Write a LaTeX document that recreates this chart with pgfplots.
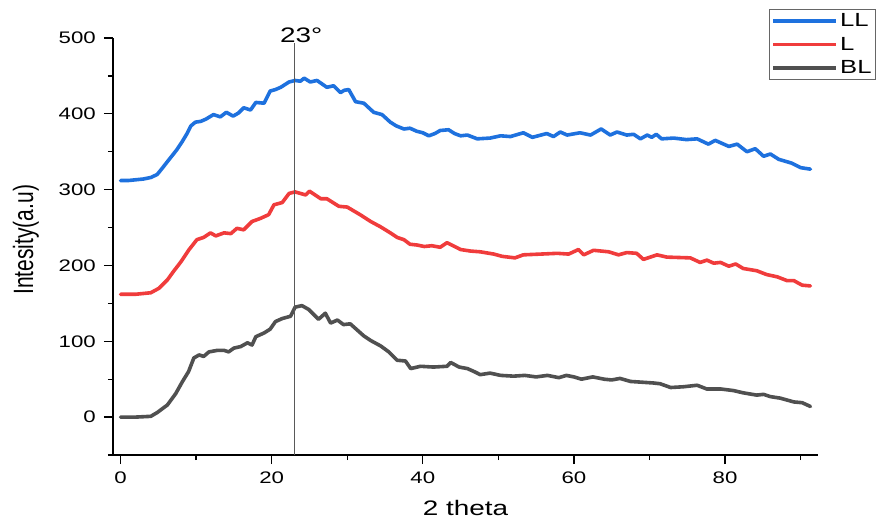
\documentclass[border=0pt]{standalone}
\usepackage{fontspec}
\setmainfont{Liberation Sans}
\usepackage{graphicx}
\usepackage{pgfplots}
\pgfplotsset{compat=1.18}
\definecolor{cLL}{RGB}{30,113,222}
\definecolor{cL}{RGB}{240,60,60}
\definecolor{cBL}{RGB}{80,80,80}
\begin{document}
\begin{tikzpicture}
\begin{axis}[
 at={(0,0)}, anchor=south west,
 scale only axis, width=705bp, height=417bp,
 xmin=-1, xmax=92.3, ymin=-50, ymax=500,
 axis x line*=bottom, axis y line*=left,
 axis line style={line width=1.3bp, black},
 xtick={0,20,40,60,80}, minor xtick={10,30,50,70,90},
 ytick={0,100,200,300,400,500}, minor ytick={-50,50,150,250,350,450},
 tick align=outside, major tick length=9bp, minor tick length=5bp,
 every tick/.style={line width=1.3bp, black},
 xticklabel={\scalebox{1.33}[1]{\pgfmathprintnumber[assume math mode=true]{\tick}}},
 yticklabel={\scalebox{1.33}[1]{\pgfmathprintnumber[assume math mode=true]{\tick}}},
 ticklabel style={font=\fontsize{16.7bp}{20bp}\selectfont},
 xticklabel style={anchor=north, inner sep=0pt, yshift=-8bp},
 yticklabel style={anchor=east, inner sep=0pt, xshift=-8bp},
 xlabel={\scalebox{1.33}[1]{2 theta}},
 ylabel={\scalebox{1}[1.33]{Intesity(a.u)}},
 xlabel style={at={(axis description cs:0.5,-0.1439)}, anchor=base, font=\fontsize{21bp}{25bp}\selectfont, inner sep=0pt},
 ylabel style={at={(axis description cs:-0.1234,0.516)}, anchor=center, font=\fontsize{21bp}{25bp}\selectfont, inner sep=0pt},
 clip=false,
 legend style={at={(axis description cs:1.0823,1.0695)}, anchor=north east, draw=black!60, line width=1bp, fill=white, inner xsep=2bp, inner ysep=2bp, font=\fontsize{19bp}{22bp}\selectfont, row sep=5bp},
 legend cell align=left,
 legend image code/.code={\draw[#1, line width=3.6bp, line cap=butt] (0bp,0bp) -- (63bp,0bp);},
 every axis plot/.append style={line width=3.6bp, line join=round, line cap=round},
]
\addplot[cLL] coordinates {(0,312) (1,312) (2,313) (3,314) (4,316) (4.85,320) (5.5,328) (6.6,342) (7.4,352) (8.2,364) (8.8,374) (9.3,384) (9.9,389) (10.6,390) (11.3,393) (12.3,399) (13.2,396) (14,402) (14.9,397) (15.6,401) (16.3,408) (17.2,405) (17.9,415) (19,414) (19.8,430) (20.5,432) (21.2,435) (22.3,442) (23.1,444) (23.8,443) (24.3,447) (25.1,442) (26,444) (27.3,435) (28.2,437) (29.1,428) (29.6,431) (30.2,432) (31.1,416) (32.2,414) (33.5,402) (34.6,399) (35.7,389) (36.5,384) (37.5,380) (38.3,381) (39.2,377) (40,375) (40.8,371) (41.6,374) (42.3,378) (43.4,379) (44.2,374) (45,371) (45.9,372) (47.2,367) (48.9,368) (50.3,371) (51.6,370) (53.3,375) (54.5,369) (56.4,374) (57.3,370) (58.2,376) (59.1,372) (60.8,375) (62.2,372) (63.6,380) (64.8,372) (65.7,376) (67,372) (67.9,373) (68.8,367) (69.7,372) (70.3,369) (70.9,373) (71.6,367) (73.2,368) (74.9,366) (76.3,367) (77.8,360) (78.7,365) (80.5,357) (81.6,360) (82.9,350) (84,354) (85.1,344) (86,347) (87.1,340) (88.8,335) (90,329) (91.3,327)};
\addlegendentry{\scalebox{1.35}[1]{LL}}
\addplot[cL] coordinates {(0,162) (1,162) (2,162) (3,163) (4,164) (5.1,170) (6.2,181) (7,192) (8,205) (9,220) (10.1,234) (11,237) (11.9,243) (12.6,239) (13.7,243) (14.6,242) (15.4,249) (16.3,247) (17.4,258) (18.5,262) (19.6,267) (20.3,280) (21.4,283) (22.3,295) (23.1,297) (24.5,293) (25,298) (26.5,288) (27.3,288) (28.9,278) (30,277) (31.7,267) (33.1,258) (34.4,251) (35.7,243) (36.6,237) (37.5,234) (38.3,228) (39.2,227) (40.2,225) (41.2,226) (42.3,224) (43.2,230) (44,226) (45,221) (46.3,219) (47.6,218) (49.4,215) (50.5,212) (52.2,210) (53.3,214) (55.6,215) (57.8,216) (59.3,215) (60.6,221) (61.3,214) (62.6,220) (64.6,218) (65.9,214) (67,217) (68.3,216) (69.2,208) (71,214) (72.3,211) (75.4,210) (76.7,204) (77.6,207) (78.5,203) (79.4,204) (80.5,199) (81.4,202) (82.4,196) (84.2,193) (85.5,188) (86.9,185) (88.2,180) (89.1,180) (90.2,174) (91.3,173)};
\addlegendentry{\scalebox{1.35}[1]{L}}
\addplot[cBL] coordinates {(0,0) (1,0) (2,0) (3,0.5) (4,1) (4.85,6) (6.2,16) (7.3,31) (8.2,47) (9,60) (9.7,78) (10.4,82) (11,80) (11.7,86) (12.8,88) (13.7,88) (14.3,86) (15,91) (15.9,93) (16.8,98) (17.4,95) (17.9,106) (19,111) (19.8,116) (20.5,126) (21.4,130) (22.5,133) (23.1,145) (24,147) (24.9,142) (26.2,129) (27.1,137) (27.8,124) (28.7,128) (29.5,122) (30.4,123) (31.3,115) (32.2,107) (33.1,101) (34.4,94) (35.5,86) (36.6,75) (37.7,74) (38.4,64) (39.7,67) (41.4,66) (43.2,67) (43.7,72) (44.8,66) (45.9,64) (46.8,60) (47.6,56) (48.9,58) (50.3,55) (52,54) (53.5,55) (55,53) (56.5,55) (58,52) (59,55) (60,53) (61,50) (62.5,53) (64,50) (65,49) (66.1,51) (67.5,47) (69,46) (70.5,45) (71.4,44) (72.8,39) (74.5,40) (76.3,42) (77.6,37) (79.5,37) (81.1,35) (82.4,32) (84.2,29) (85.1,30) (86,27) (87.3,25) (89.1,20) (90.2,19) (91.3,14)};
\addlegendentry{\scalebox{1.35}[1]{BL}}
\addplot[forget plot, color=black!65, line width=1.5bp, line cap=butt] coordinates {(23,-50) (23,493)};
\node[font=\fontsize{21bp}{25bp}\selectfont, inner sep=0pt] at (axis cs:23.9,504) {\scalebox{1.33}[1]{23°}};
\end{axis}
\pgfresetboundingbox
\path[use as bounding box] (-113bp,-63bp) rectangle (764bp,455bp);
\end{tikzpicture}
\end{document}
